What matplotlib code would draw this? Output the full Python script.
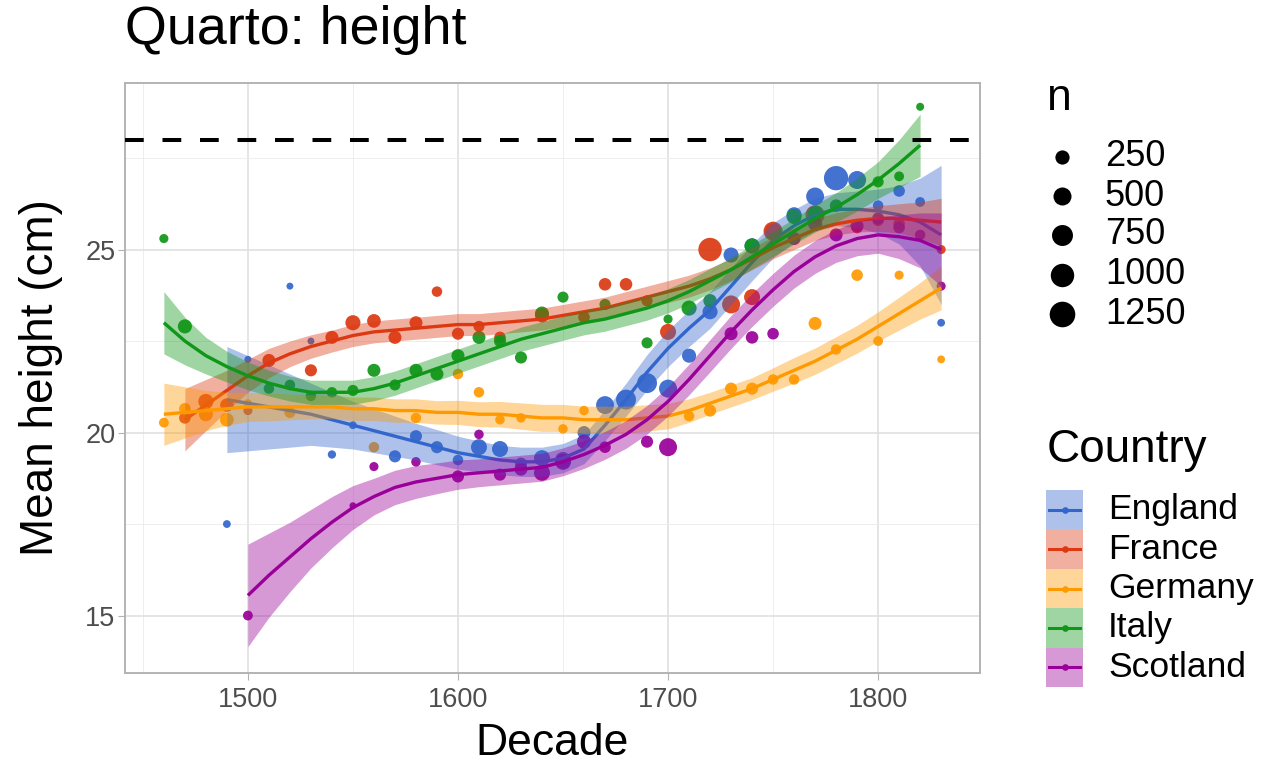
import numpy as np
import matplotlib
matplotlib.use("Agg")
import matplotlib.pyplot as plt
from matplotlib.patches import Rectangle

plt.rcParams['font.family'] = ['Liberation Sans', 'DejaVu Sans']
plt.rcParams['lines.scale_dashes'] = False

# ---------------- data ----------------
countries = ["England", "France", "Germany", "Italy", "Scotland"]
colors = {"England": "#3366CC", "France": "#DC3912", "Germany": "#FF9900",
          "Italy": "#109618", "Scotland": "#990099"}

england_dec = [1490,1500,1520,1530,1540,1550,1570,1580,1590,1600,1610,1620,1630,1640,1650,1660,
               1670,1680,1690,1700,1710,1720,1730,1740,1750,1760,1770,1780,1790,1800,1810,1820,1830]
england_h = [17.5,22.0,24.0,22.5,19.4,20.2,19.35,19.9,19.6,19.25,19.6,19.55,19.15,19.3,19.25,20.0,
             20.75,20.9,21.35,21.2,22.1,23.3,24.85,25.1,25.5,25.95,26.45,26.95,26.9,26.2,26.6,26.3,23.0]
england_n = [23,11,11,11,32,23,149,149,149,89,357,357,149,357,357,189,
             490,655,655,498,244,301,301,301,357,301,490,1100,498,89,128,69,23]

france_dec = [1470,1480,1490,1500,1510,1530,1540,1550,1560,1570,1580,1590,1600,1610,1620,1640,1660,
              1670,1680,1690,1700,1720,1730,1740,1750,1770,1790,1800,1810,1830]
france_h = [20.4,20.85,20.75,20.6,21.97,21.7,22.6,23.0,23.05,22.6,23.0,23.85,22.7,22.9,22.6,23.2,23.15,
            24.05,24.05,23.6,22.75,25.0,23.5,23.7,25.5,25.95,25.6,25.8,25.7,25.0]
france_n = [128,301,208,50,189,149,189,301,223,189,189,89,149,110,128,244,128,
            168,168,110,357,1000,498,357,586,586,128,128,128,50]

germany_dec = [1460,1470,1480,1490,1500,1520,1560,1580,1600,1610,1620,1630,1650,1660,
               1710,1720,1730,1740,1750,1760,1770,1780,1790,1800,1810,1830]
germany_h = [20.27,20.65,20.5,20.35,20.8,20.55,19.6,20.4,21.6,21.1,20.35,20.4,20.1,20.6,
             20.45,20.6,21.2,21.2,21.45,21.45,22.98,22.27,24.3,22.5,24.3,22.0]
germany_n = [69,128,244,223,27,110,89,89,89,89,60,60,60,60,
             89,149,149,149,89,89,189,89,128,69,50,23]

italy_dec = [1460,1470,1510,1520,1530,1540,1550,1560,1570,1580,1590,1600,1610,1620,1630,1640,1650,
             1670,1690,1700,1710,1720,1740,1760,1770,1780,1800,1810,1820]
italy_h = [25.3,22.9,21.2,21.3,21.0,21.1,21.15,21.7,21.3,21.7,21.6,22.1,22.6,22.5,22.05,23.25,23.7,
           23.5,22.45,23.1,23.4,23.6,25.1,25.9,26.0,26.2,26.85,27.0,28.9]
italy_n = [50,244,89,89,89,89,110,189,110,189,189,189,189,149,149,244,110,
           110,110,50,301,208,301,301,244,168,110,69,27]

scotland_dec = [1500,1550,1560,1580,1600,1610,1620,1630,1640,1650,1660,1670,1690,1700,
                1730,1740,1750,1760,1770,1780,1790,1800,1810,1820,1830]
scotland_h = [15.0,18.0,19.07,19.2,18.8,19.95,18.85,19.0,18.9,19.2,19.75,19.6,19.75,19.6,
              22.7,22.6,22.7,25.3,25.7,25.4,25.65,25.85,25.6,25.4,24.0]
scotland_n = [69,11,50,60,149,60,149,189,357,357,244,128,149,498,
              189,168,128,189,244,189,189,149,128,89,50]

# smoothed fits: decade, fit, half-width of band
england_fit_dec = list(range(1490, 1840, 10))
england_fit = [20.9,20.8,20.7,20.6,20.5,20.35,20.2,20.05,19.9,19.75,19.6,19.45,19.35,19.25,19.2,19.2,
               19.3,19.55,20.2,20.9,21.65,22.3,22.85,23.35,24.0,24.65,25.25,25.65,25.95,26.1,26.1,
               26.05,25.95,25.75,25.4]
england_se = [1.45,1.3,1.15,1.0,0.85,0.75,0.65,0.6,0.55,0.5,0.48,0.45,0.42,0.4,0.4,0.4,
              0.4,0.4,0.42,0.45,0.48,0.5,0.5,0.5,0.5,0.5,0.48,0.45,0.45,0.45,0.5,
              0.6,0.8,1.2,1.9]

france_fit_dec = list(range(1470, 1840, 10))
france_fit = [20.35,20.75,21.15,21.55,21.9,22.15,22.35,22.5,22.65,22.75,22.8,22.85,22.9,22.95,22.95,
              23.0,23.05,23.1,23.2,23.3,23.4,23.55,23.7,23.85,24.0,24.2,24.45,24.75,25.05,25.3,
              25.55,25.7,25.8,25.85,25.85,25.8,25.75]
france_se = [0.85,0.7,0.55,0.45,0.4,0.35,0.32,0.3,0.3,0.3,0.3,0.3,0.3,0.3,0.3,
             0.3,0.3,0.3,0.3,0.3,0.3,0.3,0.3,0.3,0.3,0.3,0.3,0.3,0.3,0.3,
             0.3,0.3,0.32,0.35,0.4,0.5,0.65]

germany_fit_dec = list(range(1460, 1840, 10))
germany_fit = [20.5,20.55,20.6,20.65,20.7,20.7,20.7,20.7,20.7,20.65,20.65,20.6,20.6,20.55,20.55,
               20.5,20.5,20.45,20.4,20.4,20.35,20.35,20.35,20.4,20.45,20.6,20.8,21.0,21.2,21.45,
               21.7,21.95,22.25,22.55,22.9,23.25,23.6,23.95]
germany_se = [0.85,0.7,0.55,0.45,0.4,0.38,0.35,0.33,0.32,0.32,0.32,0.32,0.32,0.32,0.33,
              0.34,0.35,0.36,0.37,0.37,0.37,0.37,0.37,0.36,0.35,0.32,0.3,0.3,0.3,0.32,
              0.35,0.36,0.37,0.38,0.4,0.45,0.5,0.6]

italy_fit_dec = list(range(1460, 1830, 10))
italy_fit = [23.0,22.5,22.1,21.8,21.55,21.35,21.2,21.1,21.1,21.1,21.2,21.35,21.55,21.75,21.95,
             22.15,22.35,22.55,22.7,22.85,23.0,23.1,23.25,23.4,23.6,23.85,24.15,24.45,24.8,25.15,
             25.5,25.85,26.15,26.5,26.9,27.35,27.85]
italy_se = [0.85,0.65,0.5,0.42,0.38,0.35,0.34,0.33,0.33,0.33,0.33,0.33,0.33,0.33,0.33,
            0.33,0.33,0.33,0.33,0.33,0.33,0.33,0.33,0.33,0.33,0.33,0.33,0.33,0.33,0.34,
            0.35,0.37,0.4,0.45,0.5,0.65,0.85]

scotland_fit_dec = list(range(1500, 1840, 10))
scotland_fit = [15.55,16.1,16.6,17.1,17.55,17.95,18.25,18.5,18.65,18.75,18.85,18.9,18.95,19.0,19.05,
                19.2,19.4,19.65,19.95,20.35,20.85,21.45,22.1,22.75,23.35,23.9,24.4,24.8,25.1,25.3,
                25.4,25.35,25.25,25.0]
scotland_se = [1.4,1.15,0.95,0.8,0.7,0.6,0.5,0.47,0.45,0.42,0.4,0.38,0.38,0.38,0.38,
               0.38,0.38,0.38,0.38,0.39,0.4,0.42,0.44,0.45,0.45,0.45,0.45,0.45,0.45,0.47,
               0.5,0.6,0.75,1.0]

reference_height = 28.0
size_breaks = [250, 500, 750, 1000, 1250]

points = {
    "England": (england_dec, england_h, england_n),
    "France": (france_dec, france_h, france_n),
    "Germany": (germany_dec, germany_h, germany_n),
    "Italy": (italy_dec, italy_h, italy_n),
    "Scotland": (scotland_dec, scotland_h, scotland_n),
}
fits = {
    "England": (england_fit_dec, england_fit, england_se),
    "France": (france_fit_dec, france_fit, france_se),
    "Germany": (germany_fit_dec, germany_fit, germany_se),
    "Italy": (italy_fit_dec, italy_fit, italy_se),
    "Scotland": (scotland_fit_dec, scotland_fit, scotland_se),
}

# ---------------- figure ----------------
W, H, DPI = 1270, 767, 100
fig = plt.figure(figsize=(W / DPI, H / DPI), dpi=DPI)
ax = fig.add_axes([125 / W, 1 - 673 / H, (980 - 125) / W, (673 - 83) / H])

def size_px(n):
    n = np.asarray(n, dtype=float)
    return 4.2 * (1 + 5 * np.sqrt(np.clip(n, 0, None) / 1300.0)) + 0.8

def s_area(n):
    d_pt = size_px(n) * 72.0 / DPI
    return d_pt ** 2

# points first
for c in countries:
    d, h, n = points[c]
    ax.scatter(d, h, s=s_area(n), color=colors[c], alpha=0.92, linewidths=0, zorder=2)

# smooth bands + lines per country
for i, c in enumerate(countries):
    d, f, se = fits[c]
    f = np.asarray(f); se = np.asarray(se)
    ax.fill_between(d, f - se, f + se, color=colors[c], alpha=0.4, linewidth=0, zorder=3 + 2 * i)
    ax.plot(d, f, color=colors[c], lw=2.4, zorder=4 + 2 * i, solid_capstyle='butt')

ax.axhline(reference_height, color='black', lw=2.9, dashes=(13.5, 13.5), zorder=20)

ax.set_xlim(1441.5, 1848.5)
ax.set_ylim(13.43, 29.55)
ax.set_xticks([1500, 1600, 1700, 1800])
ax.set_yticks([15, 20, 25])
ax.set_xticks([1450, 1550, 1650, 1750], minor=True)
ax.set_yticks([17.5, 22.5, 27.5], minor=True)
ax.grid(which='major', color='#DEDEDE', lw=1.1, zorder=0)
ax.grid(which='minor', color='#EBEBEB', lw=0.6, zorder=0)
ax.set_axisbelow(True)
for sp in ax.spines.values():
    sp.set_color('#B3B3B3')
    sp.set_linewidth(1.4)
ax.tick_params(which='major', length=5, width=0.8, color='#B3B3B3',
               labelsize=19.5, labelcolor='#4D4D4D')
ax.tick_params(axis='x', which='major', pad=5)
ax.tick_params(axis='y', which='major', pad=2)
ax.tick_params(which='minor', length=0)

ax.set_xlabel("Decade", fontsize=32, labelpad=7)
ax.set_ylabel("Mean height (cm)", fontsize=33, labelpad=16)
fig.text(125 / W, 1 - 30 / H, "Quarto: height", fontsize=38.8, ha='left', va='center')

# ---------------- legends (pixel coordinate overlay) ----------------
lg = fig.add_axes([0, 0, 1, 1], facecolor='none')
lg.set_xlim(0, W); lg.set_ylim(H, 0); lg.axis('off')

lg.text(1047, 98, "n", fontsize=32, ha='left', va='center')
size_y = [157, 196, 235, 275, 314]
for b, y in zip(size_breaks, size_y):
    lg.scatter([1062], [y], s=s_area(b), color='black', linewidths=0)
    lg.text(1105, y, str(b), fontsize=26, ha='left', va='center')

lg.text(1047, 450, "Country", fontsize=33, ha='left', va='center')
key_top = 490
key_h = 39.4
for i, c in enumerate(countries):
    y0 = key_top + i * key_h
    lg.add_patch(Rectangle((1046, y0), 37, key_h, facecolor=colors[c], alpha=0.4, linewidth=0))
    yc = y0 + key_h / 2
    lg.plot([1049, 1080], [yc, yc], color=colors[c], lw=2.2)
    lg.scatter([1064.5], [yc], s=s_area(8), color=colors[c], linewidths=0, zorder=5)
    lg.text(1108, yc, c, fontsize=25.5, ha='left', va='center')

fig.savefig("out.png", dpi=DPI)
